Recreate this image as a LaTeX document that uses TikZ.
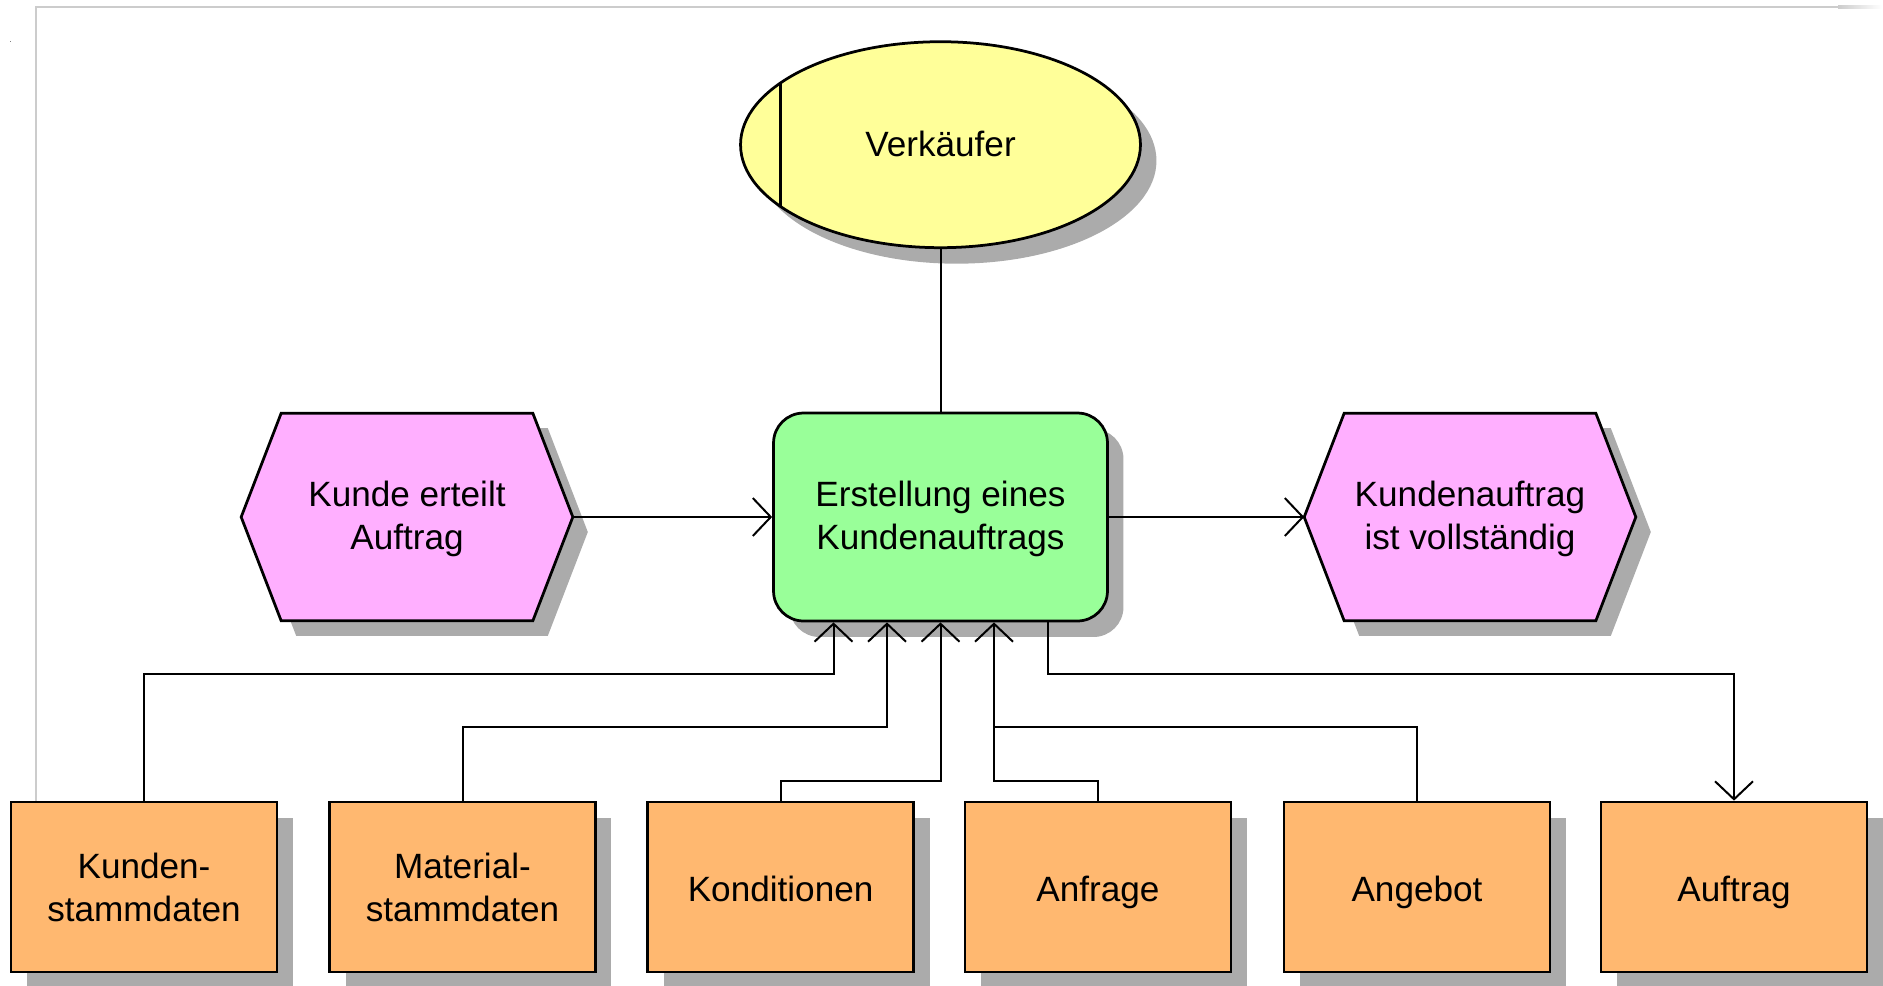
\documentclass[tikz,border=0pt]{standalone}
\usepackage{fontspec}
\setmainfont{Liberation Sans}
\usetikzlibrary{arrows.meta,shapes.geometric,shadows,calc}
\pgfdeclarelayer{bg}
\pgfsetlayers{bg,main}
\definecolor{yellowc}{HTML}{FFFF99}
\definecolor{greenc}{HTML}{99FF99}
\definecolor{pinkc}{HTML}{FFAFFF}
\definecolor{orangec}{HTML}{FFB870}
\definecolor{shadowc}{HTML}{ABABAB}
\definecolor{framec}{HTML}{CCCCCC}
\newcommand{\lastline}[1]{\smash{#1}\rule[-2pt]{0pt}{0pt}}
\begin{document}
\begin{tikzpicture}[x=0.02cm,y=-0.02cm,
  font=\fontsize{20}{24.4}\selectfont,
  shad/.style={drop shadow={shadow xshift=0.32cm,shadow yshift=-0.32cm,fill=shadowc,opacity=1}},
  outl/.style={draw=black,line width=0.055cm},
  oneline/.style={text height=17pt,text depth=0pt},
  databox/.style={rectangle,outl,fill=orangec,minimum width=5.32cm,minimum height=3.4cm,inner sep=0pt,align=center,shad},
  func/.style={rectangle,rounded corners=0.6cm,outl,fill=greenc,minimum width=6.68cm,minimum height=4.16cm,inner sep=0pt,align=center,shad},
  orgunit/.style={ellipse,outl,fill=yellowc,minimum width=8cm,minimum height=4.12cm,inner sep=0pt,align=center,shad},
  evt/.style={rectangle,minimum width=6.62cm,minimum height=4.14cm,inner sep=0pt,align=center},
  evtshape/.style={outl,fill=pinkc},
  conn/.style={line width=0.04cm},
  arr/.style={conn,-{Straight Barb[length=0.36cm,width=0.76cm]}}]
\useasboundingbox (0,0) rectangle (1883,985);
% frame
\draw[framec,line width=0.054cm] (36,985) -- (36,7) -- (1838,7);
\shade[left color=framec,right color=white] (1838,5.65) rectangle (1882,8.35);
\fill[gray] (9.5,40.5) rectangle (11,42);

% nodes
\node[orgunit,text height=13pt,text depth=0pt] (v) at (940.5,144.7) {Verkäufer};
\draw[line width=0.05cm] ($(v.center)+(-160,-62)$) -- ($(v.center)+(-160,62)$);
\node[func] (f) at (940.5,517) {Erstellung eines\\\lastline{Kundenauftrags}};
\node[evt] (e1) at (407,517) {Kunde erteilt\\\lastline{Auftrag}};
\node[evt] (e2) at (1470,517) {Kundenauftrag\\\lastline{ist vollständig}};
\begin{pgfonlayer}{bg}
\foreach \n in {e1,e2}{
  \fill[shadowc] ($(\n.west)+(15,15)$) -- ($(\n.north west)+(55,15)$) -- ($(\n.north east)+(-25,15)$) -- ($(\n.east)+(15,15)$) -- ($(\n.south east)+(-25,15)$) -- ($(\n.south west)+(55,15)$) -- cycle;
  \draw[evtshape] (\n.west) -- ($(\n.north west)+(40,0)$) -- ($(\n.north east)+(-40,0)$) -- (\n.east) -- ($(\n.south east)+(-40,0)$) -- ($(\n.south west)+(40,0)$) -- cycle;
}
\end{pgfonlayer}

\node[databox] (d1) at (144,887) {Kunden-\\stammdaten};
\node[databox] (d2) at (462.5,887) {Material-\\stammdaten};
\node[databox,oneline] (d3) at (780.6,887) {Konditionen};
\node[databox,oneline] (d4) at (1098,887) {Anfrage};
\node[databox,oneline] (d5) at (1417,887) {Angebot};
\node[databox,oneline] (d6) at (1734,887) {Auftrag};

% connection points on the function's bottom edge
\coordinate (a1) at ($(f.south)+(-107,0)$);
\coordinate (a2) at ($(f.south)+(-53.5,0)$);
\coordinate (a3) at (f.south);
\coordinate (a4) at ($(f.south)+(53.5,0)$);
\coordinate (a5) at ($(f.south)+(107,0)$);

% connectors
\draw[conn] (v.south) -- (f.north);
\draw[arr] (e1.east) -- (f.west);
\draw[arr] (f.east) -- (e2.west);
\draw[arr] (d1.north) -- (d1.north |- 0,674) -- (a1 |- 0,674) -- (a1);
\draw[arr] (d2.north) -- (d2.north |- 0,727) -- (a2 |- 0,727) -- (a2);
\draw[arr] (d3.north) -- (d3.north |- 0,781) -- (a3 |- 0,781) -- (a3);
\draw[arr] (d4.north) -- (d4.north |- 0,781) -- (a4 |- 0,781) -- (a4);
\draw[conn] (d5.north) -- (d5.north |- 0,727) -- (a4 |- 0,727);
\draw[arr] (a5) -- (a5 |- 0,674) -- (d6.north |- 0,674) -- (d6.north);
\end{tikzpicture}
\end{document}
